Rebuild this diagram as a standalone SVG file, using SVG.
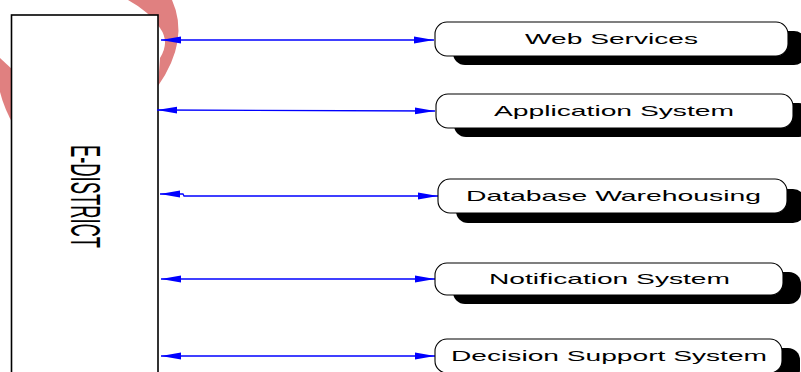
<svg xmlns="http://www.w3.org/2000/svg" width="801" height="372" viewBox="0 0 801 372">
<defs>
<style>
.wm{fill:#e08080;stroke:none}
.main{fill:#fff;stroke:#000;stroke-width:1.6}
.shadow{fill:#000;stroke:none}
.box{fill:#fff;stroke:#000;stroke-width:1.1}
.lbl{font-family:"Liberation Sans",Arial,sans-serif;font-size:15px;fill:#000}
.big{font-family:"Liberation Sans Narrow","Liberation Sans",Arial,sans-serif;font-size:42px;fill:#000}
.conn{fill:none;stroke:#0000ff;stroke-width:1.3}
</style>
<marker id="arr" viewBox="0 0 20 8" refX="20" refY="4" markerWidth="20" markerHeight="8" markerUnits="userSpaceOnUse" orient="auto-start-reverse">
<path d="M0,0.6 L20,4 L0,7.4 z" fill="#0000ff"/>
</marker>
</defs>
<g id="watermark">
<path class="wm" d="M128,0 L172,0 Q190,40 158,86 L160,58 Q170,42 160,28 Q150,12 128,0 z"/>
<path class="wm" d="M0,58 L14,71 L14,126 Q4,108 0,92 z"/>
</g>
<g id="e-district">
<rect class="main" x="11.5" y="15" width="146.5" height="370"/>
<text class="big" transform="translate(71,145) rotate(90)" x="0" y="0" textLength="103" lengthAdjust="spacingAndGlyphs">E-DISTRICT</text>
</g>
<g id="connectors">
<path class="conn" d="M161,40 L434,40" marker-start="url(#arr)" marker-end="url(#arr)"/>
<path class="conn" d="M157,110 L435,111" marker-start="url(#arr)" marker-end="url(#arr)"/>
<path class="conn" d="M160,194 L183,194 L184,196 L438,196" marker-start="url(#arr)" marker-end="url(#arr)"/>
<path class="conn" d="M161,279 L435,279" marker-start="url(#arr)" marker-end="url(#arr)"/>
<path class="conn" d="M161,356 L435,356" marker-start="url(#arr)" marker-end="url(#arr)"/>
</g>
<g id="web-services">
<rect class="shadow" x="453" y="31" width="353" height="34" rx="12"/>
<rect class="box" x="435" y="22" width="353" height="34" rx="12"/>
<text class="lbl" x="525" y="44" textLength="173" lengthAdjust="spacingAndGlyphs">Web Services</text>
</g>
<g id="application-system">
<rect class="shadow" x="454" y="103" width="357" height="34" rx="12"/>
<rect class="box" x="436" y="94" width="357" height="34" rx="12"/>
<text class="lbl" x="494" y="115.5" textLength="240" lengthAdjust="spacingAndGlyphs">Application System</text>
</g>
<g id="database-warehousing">
<rect class="shadow" x="456" y="189" width="349" height="34" rx="12"/>
<rect class="box" x="438" y="179" width="349" height="34" rx="12"/>
<text class="lbl" x="466" y="200.5" textLength="295" lengthAdjust="spacingAndGlyphs">Database Warehousing</text>
</g>
<g id="notification-system">
<rect class="shadow" x="453" y="272" width="348" height="32" rx="12"/>
<rect class="box" x="435" y="263" width="348" height="32" rx="12"/>
<text class="lbl" x="489" y="283.5" textLength="241" lengthAdjust="spacingAndGlyphs">Notification System</text>
</g>
<g id="decision-support-system">
<rect class="shadow" x="453" y="348" width="347" height="34" rx="12"/>
<rect class="box" x="435" y="339" width="347" height="34" rx="12"/>
<text class="lbl" x="451" y="361" textLength="316" lengthAdjust="spacingAndGlyphs">Decision Support System</text>
</g>
</svg>
